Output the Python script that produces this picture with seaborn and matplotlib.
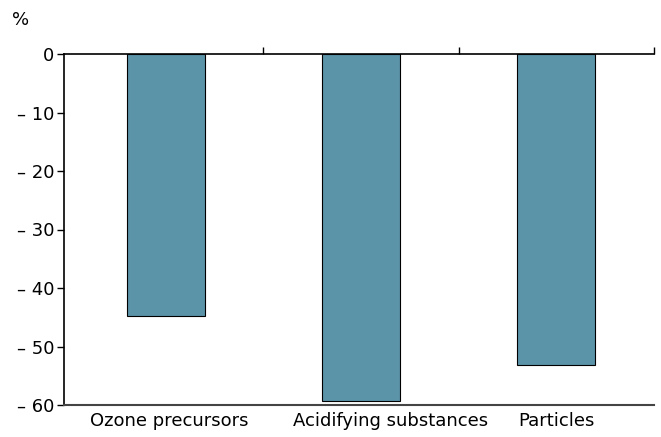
import matplotlib
matplotlib.use("Agg")
import matplotlib.pyplot as plt
import seaborn as sns
import pandas as pd

categories = ["Ozone precursors", "Acidifying substances", "Particles"]
values = [-44.8, -59.3, -53.2]
yticks = [0, -10, -20, -30, -40, -50, -60]
ytick_labels = ["0", "\u2013 10", "\u2013 20", "\u2013 30", "\u2013 40", "\u2013 50", "\u2013 60"]

sns.set_theme(style="white")
plt.rcParams["font.family"] = ["DejaVu Sans"]

df = pd.DataFrame({"cat": categories, "val": values})

fig = plt.figure(figsize=(6.61, 4.37), dpi=100)
ax = fig.add_axes([64/661, 1-405/437, (654-64)/661, (405-54)/437])

sns.barplot(data=df, x="cat", y="val", color="#5b93a9", saturation=1,
            width=0.4, edgecolor="black", linewidth=0.8, ax=ax)

fs = 13
ax.set_ylim(-60, 0)
ax.set_xlim(-0.52, 2.5)
ax.set_yticks(yticks)
ax.set_yticklabels(ytick_labels, fontsize=fs, color="black")
ax.set_xlabel("")
ax.set_ylabel("")
# label placement offsets (layout only)
label_offsets = [0.02, 0.15, 0.0]
ax.set_xticks([i + o for i, o in enumerate(label_offsets)])
ax.set_xticklabels(categories)
ax.tick_params(axis="x", which="major", length=0, labelsize=fs, labelcolor="black", pad=5)
ax.tick_params(axis="y", which="major", left=True, length=5, width=1, color="black", direction="out", pad=2)
ax.set_xticks([0.5, 1.5, 2.5], minor=True)
ax.tick_params(axis="x", which="minor", top=True, bottom=False, length=5, width=1, color="black", direction="out")

for s in ["left", "top"]:
    ax.spines[s].set_visible(True)
    ax.spines[s].set_color("black")
    ax.spines[s].set_linewidth(1.2)
ax.spines["bottom"].set_visible(True)
ax.spines["bottom"].set_color("#444444")
ax.spines["bottom"].set_linewidth(1.5)
ax.spines["right"].set_visible(False)

fig.text(12/661, 1-20/437, "%", fontsize=fs, va="center", ha="left", color="black")

fig.savefig("out.png", dpi=100)
